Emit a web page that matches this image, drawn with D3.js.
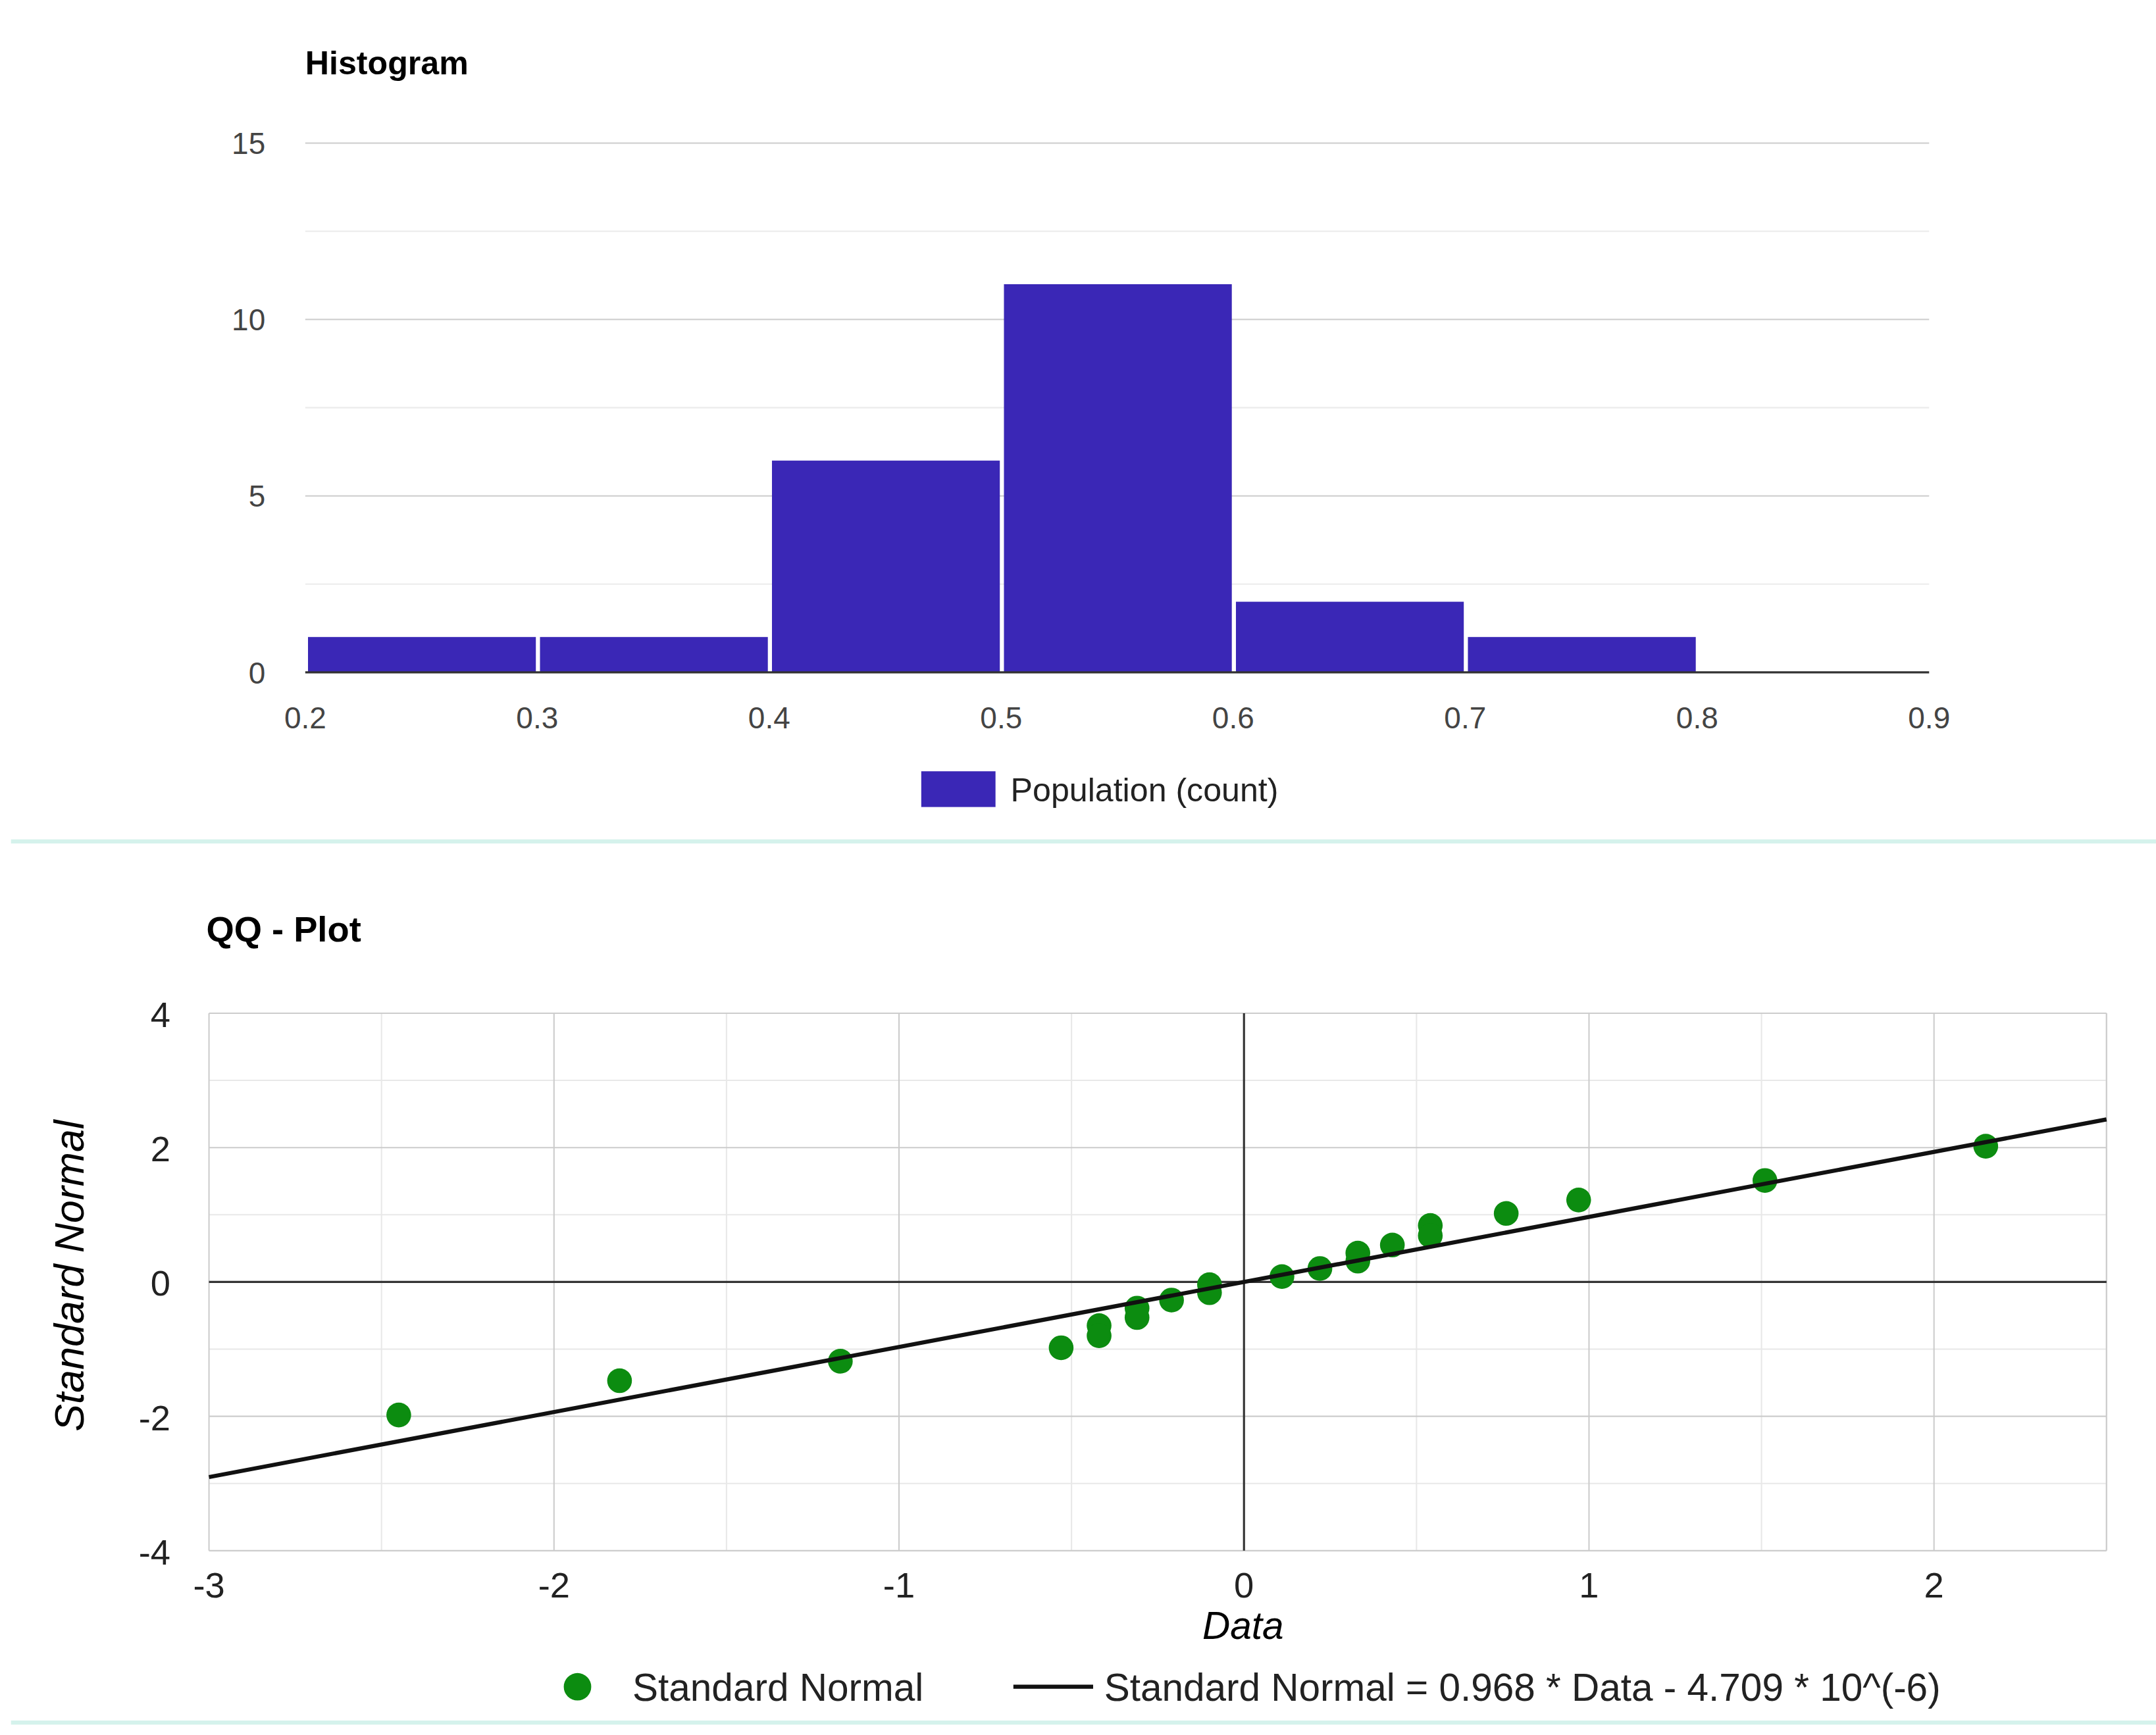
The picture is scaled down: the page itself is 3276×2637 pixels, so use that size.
<!DOCTYPE html>
<html><head><meta charset="utf-8">
<script src="https://cdn.jsdelivr.net/npm/d3@7"></script>
<style>body{margin:0;background:#fff}text{font-family:Arial,"Liberation Sans",sans-serif}</style>
</head><body>
<svg width="3276" height="2637" viewBox="0 0 1568 1262"></svg>
<script>
// histogram bins
const binStarts = [0.2, 0.3, 0.4, 0.5, 0.6, 0.7];
const binCounts = [1, 1, 6, 11, 2, 1];
const histXTicks = [0.2, 0.3, 0.4, 0.5, 0.6, 0.7, 0.8, 0.9];
const histYTicks = [0, 5, 10, 15];

// qq points
const qqData = [-2.45, -1.81, -1.17, -0.53, -0.42, -0.42, -0.31, -0.31, -0.21, -0.10, -0.10,
  0.11, 0.22, 0.33, 0.33, 0.43, 0.54, 0.54, 0.76, 0.97, 1.51, 2.15];
const qqNormal = [-1.98, -1.47, -1.18, -0.98, -0.65, -0.80, -0.39, -0.53, -0.27, -0.04, -0.16,
  0.08, 0.20, 0.43, 0.31, 0.55, 0.84, 0.69, 1.02, 1.22, 1.51, 2.02];
const slope = 0.968, intercept = -4.709e-6;
const qqXTicks = [-3, -2, -1, 0, 1, 2];
const qqYTicks = [-4, -2, 0, 2, 4];

const svg = d3.select("svg");

// ---- Histogram ----
const hx = d3.scaleLinear().domain([0.2, 0.9]).range([222, 1403]);
const hy = d3.scaleLinear().domain([0, 15]).range([489, 104]);

svg.append("text").attr("x", 222).attr("y", 54).attr("font-size", 24)
  .attr("font-weight", "bold").text("Histogram");

const hg = svg.append("g");
hg.selectAll("line.minor").data([2.5, 7.5, 12.5]).join("line")
  .attr("x1", 222).attr("x2", 1403).attr("y1", d => hy(d)).attr("y2", d => hy(d))
  .attr("stroke", "#ebebeb");
hg.selectAll("line.major").data(histYTicks.slice(1)).join("line")
  .attr("x1", 222).attr("x2", 1403).attr("y1", d => hy(d)).attr("y2", d => hy(d))
  .attr("stroke", "#cccccc");
hg.selectAll("text.y").data(histYTicks).join("text")
  .attr("x", 193).attr("y", d => hy(d) + 8).attr("text-anchor", "end")
  .attr("font-size", 22).attr("fill", "#444").text(d => d);

hg.selectAll("rect").data(binStarts).join("rect")
  .attr("x", d => hx(d) + 2).attr("width", d => hx(d + 0.1) - hx(d) - 3)
  .attr("y", (d, i) => hy(binCounts[i])).attr("height", (d, i) => hy(0) - hy(binCounts[i]))
  .attr("fill", "#3a27b6");
hg.append("line").attr("x1", 222).attr("x2", 1403).attr("y1", 489).attr("y2", 489)
  .attr("stroke", "#333").attr("stroke-width", 1.5);
hg.selectAll("text.x").data(histXTicks).join("text")
  .attr("x", d => hx(d)).attr("y", 530).attr("text-anchor", "middle")
  .attr("font-size", 22).attr("fill", "#444").text(d => d);

svg.append("rect").attr("x", 670).attr("y", 561).attr("width", 54).attr("height", 26).attr("fill", "#3a27b6");
svg.append("text").attr("x", 735).attr("y", 583).attr("font-size", 24).attr("fill", "#222").text("Population (count)");

// separators
[612, 1253].forEach(y => svg.append("line").attr("x1", 8).attr("x2", 1568).attr("y1", y).attr("y2", y)
  .attr("stroke", "#d5f2ec").attr("stroke-width", 3));

// ---- QQ plot ----
const qx = d3.scaleLinear().domain([-3, 2.5]).range([152, 1532]);
const qy = d3.scaleLinear().domain([-4, 4]).range([1128, 737]);

svg.append("text").attr("x", 150).attr("y", 685).attr("font-size", 26)
  .attr("font-weight", "bold").text("QQ - Plot");

const qg = svg.append("g");
qg.selectAll("line.vminor").data(d3.range(-2.5, 2.6, 1)).join("line")
  .attr("x1", d => qx(d)).attr("x2", d => qx(d)).attr("y1", 737).attr("y2", 1128).attr("stroke", "#e8e8e8");
qg.selectAll("line.hminor").data([-3, -1, 1, 3]).join("line")
  .attr("x1", 152).attr("x2", 1532).attr("y1", d => qy(d)).attr("y2", d => qy(d)).attr("stroke", "#e8e8e8");
qg.selectAll("line.vmajor").data([-3, -2, -1, 1, 2, 2.5]).join("line")
  .attr("x1", d => qx(d)).attr("x2", d => qx(d)).attr("y1", 737).attr("y2", 1128).attr("stroke", "#cccccc");
qg.selectAll("line.hmajor").data([-4, -2, 2, 4]).join("line")
  .attr("x1", 152).attr("x2", 1532).attr("y1", d => qy(d)).attr("y2", d => qy(d)).attr("stroke", "#cccccc");
qg.append("line").attr("x1", qx(0)).attr("x2", qx(0)).attr("y1", 737).attr("y2", 1128).attr("stroke", "#333").attr("stroke-width", 1.5);
qg.append("line").attr("x1", 152).attr("x2", 1532).attr("y1", qy(0)).attr("y2", qy(0)).attr("stroke", "#333").attr("stroke-width", 1.5);

qg.selectAll("text.x").data(qqXTicks).join("text")
  .attr("x", d => qx(d)).attr("y", 1162).attr("text-anchor", "middle")
  .attr("font-size", 26).attr("fill", "#222").text(d => d);
qg.selectAll("text.y").data(qqYTicks).join("text")
  .attr("x", 124).attr("y", d => qy(d) + 10).attr("text-anchor", "end")
  .attr("font-size", 26).attr("fill", "#222").text(d => d);

svg.append("text").attr("x", 904).attr("y", 1192).attr("text-anchor", "middle")
  .attr("font-size", 28).attr("font-style", "italic").text("Data");
svg.append("text").attr("transform", "translate(61,928) rotate(-90)").attr("text-anchor", "middle")
  .attr("font-size", 30).attr("font-style", "italic").text("Standard Normal");

qg.selectAll("circle").data(qqData).join("circle")
  .attr("cx", d => qx(d)).attr("cy", (d, i) => qy(qqNormal[i])).attr("r", 9).attr("fill", "#0c8c10");
qg.append("line").attr("x1", qx(-3)).attr("y1", qy(slope * -3 + intercept))
  .attr("x2", qx(2.5)).attr("y2", qy(slope * 2.5 + intercept))
  .attr("stroke", "#111").attr("stroke-width", 3);

svg.append("circle").attr("cx", 420).attr("cy", 1227).attr("r", 10).attr("fill", "#0c8c10");
svg.append("text").attr("x", 460).attr("y", 1237).attr("font-size", 28).attr("fill", "#222").text("Standard Normal");
svg.append("line").attr("x1", 737).attr("x2", 795).attr("y1", 1227).attr("y2", 1227).attr("stroke", "#111").attr("stroke-width", 3);
svg.append("text").attr("x", 803).attr("y", 1237).attr("font-size", 28).attr("fill", "#222")
  .text("Standard Normal = 0.968 * Data - 4.709 * 10^(-6)");
</script>
</body></html>
